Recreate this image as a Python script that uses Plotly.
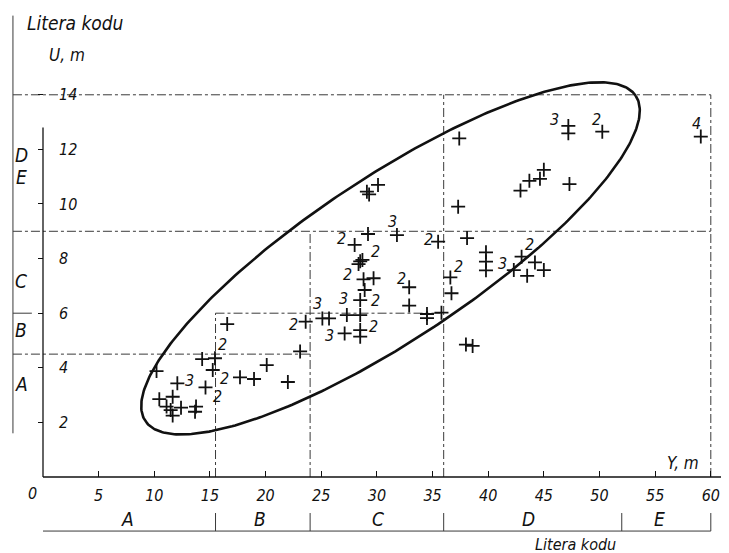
import numpy as np
import plotly.graph_objects as go

# ---------------- data ----------------
pt_x = [10.2, 10.45, 11.1, 11.47, 11.65, 11.65, 12.07, 12.4, 13.66, 13.75,
        14.3, 14.6, 15.25, 15.45, 16.55, 17.7, 18.96, 20.1, 22.0, 23.1,
        23.6, 25.1, 25.7, 27.3, 28.5, 27.1, 28.5, 28.5, 28.5, 28.9,
        28.8, 29.7, 28.5, 28.7, 28.35, 28.0, 29.2, 29.3, 29.1, 30.1,
        31.8, 32.9, 32.9, 34.5, 34.5, 35.8, 35.5, 36.6, 36.7, 37.3,
        37.4, 38.1, 39.8, 39.8, 39.8, 43.0, 44.2, 42.3, 43.5, 45.0,
        42.9, 43.7, 44.65, 45.0, 47.3, 47.2, 47.2, 50.25, 59.1, 38.0, 38.6]
pt_y = [3.88, 2.85, 2.58, 2.45, 2.94, 2.25, 3.43, 2.54, 2.39, 2.58,
        4.32, 3.28, 3.92, 4.35, 5.6, 3.65, 3.59, 4.1, 3.48, 4.6,
        5.69, 5.81, 5.81, 5.93, 5.93, 5.26, 5.38, 5.14, 6.48, 6.85,
        7.24, 7.28, 7.9, 7.95, 7.8, 8.5, 8.9, 10.35, 10.45, 10.7,
        8.86, 6.95, 6.28, 5.97, 5.82, 6.02, 8.62, 7.31, 6.73, 9.9,
        12.4, 8.75, 8.23, 7.89, 7.57, 8.07, 7.86, 7.58, 7.37, 7.58,
        10.49, 10.85, 10.92, 11.25, 10.73, 12.86, 12.59, 12.65, 12.47, 4.85, 4.8]

# multiplicity labels (number of coincident observations)
count_text = ["3", "2", "2", "2", "2", "3", "3", "3", "2", "2", "2", "2", "2",
              "3", "2", "2", "2", "2", "3", "3", "2", "4"]
count_x = [13.12, 16.35, 15.70, 16.15, 22.49, 24.65, 25.72, 27.04, 27.34, 26.84,
           29.83, 29.83, 29.68, 31.42, 34.62, 32.23, 37.31, 43.69, 41.30, 46.0,
           49.75, 58.73]
count_y = [3.52, 3.62, 2.94, 4.84, 5.57, 6.36, 5.20, 6.55, 7.40, 8.74,
           8.25, 6.48, 5.51, 9.35, 8.71, 7.28, 7.70, 8.53, 7.83, 13.08,
           13.08, 12.96]

x_ticks = [5, 10, 15, 20, 25, 30, 35, 40, 45, 50, 55, 60]
y_ticks = [2, 4, 6, 8, 10, 12, 14]

# code letters along the horizontal (Y, m) axis
x_code_letters = ["A", "B", "C", "D", "E"]
x_code_bounds = [0, 15.5, 24, 36, 52, 60]
x_letter_pos = [7.6, 19.5, 30.1, 43.6, 55.4]
# code letters along the vertical (U, m) axis
y_code_letters = ["A", "B", "C", "D", "E"]
y_letter_pos = [3.4, 5.4, 7.18, 11.8, 11.0]

# ellipse: centre and two conjugate semi-axis vectors (data units)
ell_center = (31.223, 8.008)
ell_axis1 = (22.032, 5.955)
ell_axis2 = (4.032, -2.479)

t = np.linspace(0, 2 * np.pi, 400)
ell_x = ell_center[0] + np.cos(t) * ell_axis1[0] + np.sin(t) * ell_axis2[0]
ell_y = ell_center[1] + np.cos(t) * ell_axis1[1] + np.sin(t) * ell_axis2[1]

FONT = "DejaVu Sans Condensed"
INK = "#111111"
GRID = "#3a3a3a"

fig = go.Figure()
fig.add_trace(go.Scatter(x=ell_x, y=ell_y, mode="lines",
                         line=dict(color=INK, width=2.6), hoverinfo="skip"))
fig.add_trace(go.Scatter(x=pt_x, y=pt_y, mode="markers",
                         marker=dict(symbol="cross-thin", size=10,
                                     line=dict(color=INK, width=1.8)),
                         cliponaxis=False))

shapes = []


def seg(xa, ya, xb, yb, dash="dashdot", width=1.0, color=GRID):
    shapes.append(dict(type="line", xref="x", yref="y", x0=xa, y0=ya, x1=xb, y1=yb,
                       line=dict(color=color, width=width, dash=dash), layer="below"))


left_br = -2.7
# horizontal code boundaries
seg(left_br, 4.5, 24, 4.5)
seg(left_br, 6, -1.0, 6, dash="solid")
seg(15.5, 6, 36, 6)
seg(left_br, 9, 60, 9)
seg(left_br, 14, 60, 14)
# vertical code boundaries
seg(15.5, 0, 15.5, 6)
seg(24, 0, 24, 9)
seg(36, 0, 36, 14)
seg(60, 0, 60, 14)
# left bracket
seg(left_br, 1.6, left_br, 16.9, dash="solid", width=1.0)
# bottom bracket
seg(0, -1.98, 60, -1.98, dash="solid", width=1.0)
for xb in x_code_bounds[1:]:
    seg(xb, -1.98, xb, -1.32, dash="solid", width=1.0)
# axes
seg(0, 0, 61.7, 0, dash="solid", width=1.3, color=INK)
seg(0, 0, 0, 12.8, dash="solid", width=1.3, color=INK)

ann = []


def txt(x, y, s_, size=16):
    ann.append(dict(x=x, y=y, xref="x", yref="y", text=s_, showarrow=False,
                    font=dict(family=FONT, size=size, color=INK, style="italic")))


for s_, x, y in zip(count_text, count_x, count_y):
    txt(x, y, s_, 16)
for s_, x in zip(x_code_letters, x_letter_pos):
    txt(x, -1.55, s_, 19)
for s_, y in zip(y_code_letters, y_letter_pos):
    txt(-1.95, y, s_, 19)

txt(2.9, 16.62, "Litera kodu", 19)
txt(2.2, 15.46, "U, m", 17)
txt(57.5, 0.5, "Y, m", 17)
txt(47.8, -2.48, "Litera kodu", 16)
txt(-0.9, -0.6, "0", 16)

# the page body has an 8px margin: the figure covers window pixels 8..729 x 8..553
fig.update_layout(
    width=721, height=545, margin=dict(l=0, r=0, t=0, b=0),
    paper_bgcolor="white", plot_bgcolor="white", showlegend=False,
    shapes=shapes, annotations=ann,
    xaxis=dict(range=[-3.145, 61.635], showgrid=False, zeroline=False, showline=False,
               tickvals=x_ticks, ticks="inside", ticklen=6, tickcolor=INK,
               anchor="free", position=76 / 545, ticklabelstandoff=7,
               tickfont=dict(family=FONT, size=16, color=INK, style="italic")),
    yaxis=dict(range=[-2.784, 17.179], showgrid=False, zeroline=False, showline=False,
               tickvals=y_ticks, ticks="outside", ticklen=5, tickcolor=INK,
               anchor="free", position=35 / 721, ticklabelposition="inside",
               ticklabelstandoff=12,
               tickfont=dict(family=FONT, size=16, color=INK, style="italic")),
)
fig.write_html("out.html")
